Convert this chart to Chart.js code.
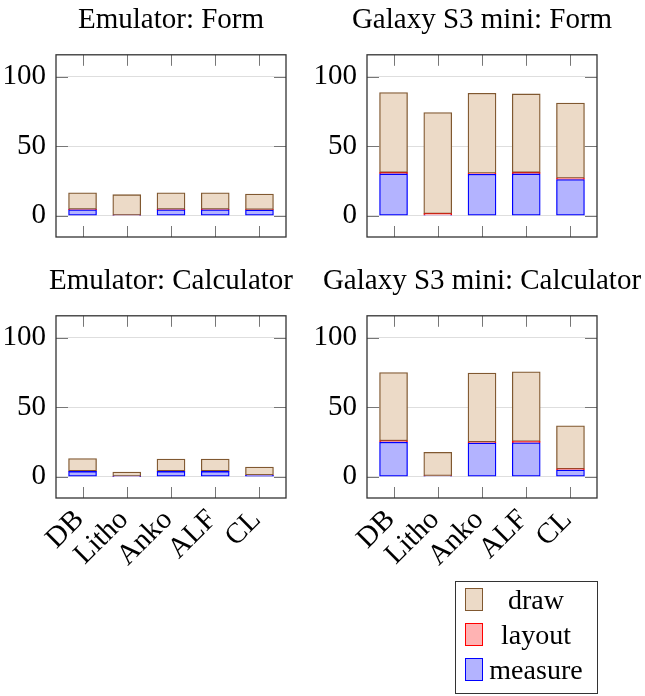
<!DOCTYPE html>
<html>
<head>
<meta charset="utf-8">
<script src="https://cdn.jsdelivr.net/npm/chart.js@4.4.1/dist/chart.umd.min.js"></script>
<style>
    html, body { margin: 0; padding: 0; background: #fff; overflow: hidden; }
    body { width: 645px; height: 696px; position: relative; font-family: 'Liberation Serif', serif; }
    canvas { position: absolute; }
    #legend { position: absolute; left: 455px; top: 581px; width: 141px; height: 111px; border: 1px solid #333; }
    #legend .row { position: absolute; left: 0; width: 141px; height: 24px; }
    #legend .box { position: absolute; left: 9px; top: 0; width: 16px; height: 21px; border: 1px solid; }
    #legend .txt { position: absolute; left: 28px; width: 104px; text-align: center; font-size: 28px; line-height: 24px; color: #000; }
</style>
</head>
<body>
<canvas id="emuForm" width="342" height="270" style="left:0px;top:0px"></canvas>
<canvas id="s3Form" width="342" height="270" style="left:311px;top:0px"></canvas>
<canvas id="emuCalc" width="342" height="320" style="left:0px;top:261px"></canvas>
<canvas id="s3Calc" width="342" height="320" style="left:311px;top:261px"></canvas>
<div id="legend"></div>
<script>
    // data
    let categories = ['DB', 'Litho', 'Anko', 'ALF', 'CL']
    let yTicks = [0, 50, 100]

    let emuFormMeasure = [4.3, 0.3, 4.3, 4.3, 4.1]
    let emuFormLayout = [0.3, 0.1, 0.3, 0.3, 0.3]
    let emuFormDraw = [11.9, 14.7, 11.9, 11.9, 11.2]

    let s3FormMeasure = [30, 0.5, 29.8, 30, 26]
    let s3FormLayout = [1, 1, 0.7, 1, 1]
    let s3FormDraw = [57.5, 72.6, 57.5, 56.5, 54]

    let emuCalcMeasure = [3.8, 0.2, 3.8, 3.8, 1]
    let emuCalcLayout = [0.3, 0.1, 0.3, 0.3, 0.2]
    let emuCalcDraw = [9, 3.1, 8.6, 8.6, 5.8]

    let s3CalcMeasure = [24.8, 0.5, 24.2, 24.4, 4.8]
    let s3CalcLayout = [1, 0.2, 0.7, 1, 0.8]
    let s3CalcDraw = [49, 16.8, 49.5, 50, 31]

    let seriesStyle = {
        draw: { bg: 'rgb(236,218,199)', border: 'rgb(128,88,48)' },
        layout: { bg: 'rgb(255,179,179)', border: 'rgb(255,0,0)' },
        measure: { bg: 'rgb(179,179,255)', border: 'rgb(0,0,255)' }
    }

    let serif = 'Liberation Serif'

    // box around the plot + inward tick marks like pgfplots
    let frameTicks = {
        id: 'frameTicks',
        afterDraw: function (chart) {
            let ctx = chart.ctx
            let a = chart.chartArea
            let xs = chart.scales.x
            let ys = chart.scales.y
            ctx.save()
            ctx.strokeStyle = '#777'
            ctx.lineWidth = 1
            ctx.beginPath()
            yTicks.forEach(function (v) {
                let py = Math.round(ys.getPixelForValue(v)) + 0.5
                ctx.moveTo(a.left, py); ctx.lineTo(a.left + 12, py)
                ctx.moveTo(a.right, py); ctx.lineTo(a.right - 12, py)
            })
            categories.forEach(function (c, i) {
                let px = Math.round(xs.getPixelForValue(i)) + 0.5
                ctx.moveTo(px, a.top); ctx.lineTo(px, a.top + 11)
                ctx.moveTo(px, a.bottom); ctx.lineTo(px, a.bottom - 11)
            })
            ctx.stroke()
            ctx.strokeStyle = '#333'
            ctx.lineWidth = 1.3
            ctx.strokeRect(a.left, a.top, a.right - a.left, a.bottom - a.top)
            ctx.restore()
        }
    }

    function makeSet(name, values) {
        return {
            label: name,
            data: values.map(function (v, i) { return { x: i, y: v } }),
            backgroundColor: seriesStyle[name].bg,
            borderColor: seriesStyle[name].border,
            borderWidth: 1.3,
            borderSkipped: false,
            barThickness: 28,
            stack: 'a'
        }
    }

    function makePanel(id, title, measure, layout, draw, showLabels) {
        let canvas = document.getElementById(id)
        let xHeight = canvas.height - 237
        return new Chart(canvas.getContext('2d'), {
            type: 'bar',
            data: {
                datasets: [
                    makeSet('measure', measure),
                    makeSet('layout', layout),
                    makeSet('draw', draw)
                ]
            },
            options: {
                responsive: false,
                animation: false,
                plugins: {
                    legend: { display: false },
                    tooltip: { enabled: false },
                    title: {
                        display: true,
                        text: title,
                        color: '#000',
                        font: { family: serif, size: 29, weight: 'normal' },
                        padding: { top: 3, bottom: 17 }
                    }
                },
                scales: {
                    x: {
                        type: 'linear',
                        offset: false,
                        min: -0.6,
                        max: 4.6,
                        afterBuildTicks: function (scale) {
                            scale.ticks = categories.map(function (c, i) { return { value: i } })
                        },
                        afterFit: function (scale) { scale.height = xHeight },
                        grid: { display: false },
                        border: { display: false },
                        ticks: {
                            display: showLabels,
                            autoSkip: false,
                            minRotation: 45,
                            maxRotation: 45,
                            padding: -3,
                            labelOffset: -3,
                            color: '#000',
                            font: { family: serif, size: 29 },
                            callback: function (v) { return categories[v] }
                        }
                    },
                    y: {
                        stacked: true,
                        min: -15.3,
                        max: 115.6,
                        afterBuildTicks: function (scale) {
                            scale.ticks = yTicks.map(function (v) { return { value: v } })
                        },
                        afterFit: function (scale) { scale.width = 56 },
                        grid: { color: 'rgb(222,222,222)', drawTicks: false },
                        border: { display: false },
                        ticks: {
                            padding: 10,
                            color: '#000',
                            font: { family: serif, size: 29 }
                        }
                    },
                    // empty right axis keeps the plot centred under the title
                    yRight: {
                        position: 'right',
                        min: -15.3,
                        max: 115.6,
                        afterFit: function (scale) { scale.width = 56 },
                        grid: { display: false },
                        border: { display: false },
                        ticks: { display: false }
                    }
                }
            },
            plugins: [frameTicks]
        })
    }

    makePanel('emuForm', 'Emulator: Form', emuFormMeasure, emuFormLayout, emuFormDraw, false)
    makePanel('s3Form', 'Galaxy S3 mini: Form', s3FormMeasure, s3FormLayout, s3FormDraw, false)
    makePanel('emuCalc', 'Emulator: Calculator', emuCalcMeasure, emuCalcLayout, emuCalcDraw, true)
    makePanel('s3Calc', 'Galaxy S3 mini: Calculator', s3CalcMeasure, s3CalcLayout, s3CalcDraw, true)

    // legend box, top to bottom: draw, layout, measure
    let legend = document.getElementById('legend')
    ;['draw', 'layout', 'measure'].forEach(function (name, i) {
        let row = document.createElement('div')
        row.className = 'row'
        row.style.top = (6 + i * 35) + 'px'
        let box = document.createElement('div')
        box.className = 'box'
        box.style.background = seriesStyle[name].bg
        box.style.borderColor = seriesStyle[name].border
        let txt = document.createElement('div')
        txt.className = 'txt'
        txt.textContent = name
        row.appendChild(box)
        row.appendChild(txt)
        legend.appendChild(row)
    })
</script>
</body>
</html>
